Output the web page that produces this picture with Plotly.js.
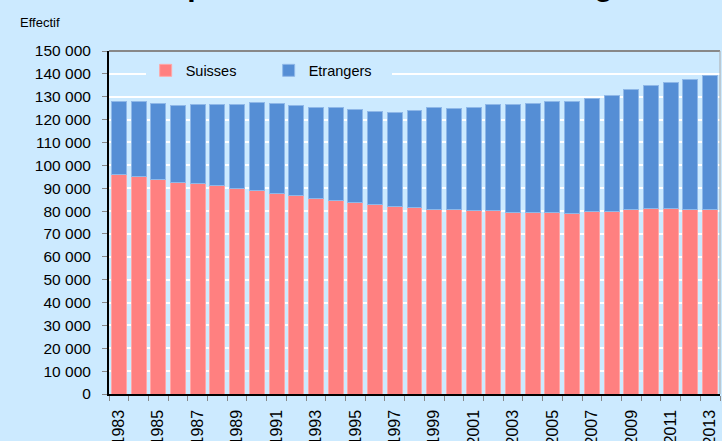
<!DOCTYPE html>
<html>
<head>
<meta charset="utf-8">
<script src="https://cdn.plot.ly/plotly-3.0.1.min.js"></script>
<style>html,body{margin:0;padding:0;background:#cceaff;}#chart{width:722px;height:441px;}</style>
</head>
<body>
<div id="chart"></div>
<script>
const years = [1983,1984,1985,1986,1987,1988,1989,1990,1991,1992,1993,1994,1995,1996,1997,1998,1999,2000,2001,2002,2003,2004,2005,2006,2007,2008,2009,2010,2011,2012,2013];
const suisses = [96100,95300,94000,92700,92100,91400,89900,88800,87500,86600,85400,84800,83800,82700,81900,81500,80900,80500,80300,80300,79400,79200,79200,79000,79600,80000,80800,81200,81300,80900,80900];
const totals = [128100,127800,127100,126100,126400,126800,126500,127400,127000,126100,125400,125200,124500,123600,123300,124200,125100,124800,125500,126400,126800,127200,127700,128100,129300,130600,133200,134700,136300,137600,139400];
const etrangers = totals.map((t,i) => t - suisses[i]);
const labelYears = years.filter(y => y % 2 === 1);

const bg = '#cceaff';
const font = "'Liberation Sans', Arial, sans-serif";

const traces = [
  {type:'bar', name:'Suisses', x:years, y:suisses,
   marker:{color:'#ff8080', line:{color:'#ffa8a8', width:1}}},
  {type:'bar', name:'Etrangers', x:years, y:etrangers,
   marker:{color:'#558ed5', line:{color:'#8fb8e8', width:1}}}
];

const layout = {
  width:722, height:441,
  paper_bgcolor:bg, plot_bgcolor:bg,
  barmode:'stack', bargap:0.24,
  margin:{l:109, r:2, t:51, b:47},
  font:{family:font, color:'#000'},
  showlegend:true,
  legend:{orientation:'h', x:0.06, xanchor:'left', y:0.99, yanchor:'top',
          bgcolor:bg, borderwidth:0, font:{size:14.5, family:font}, entrywidth:78, itemwidth:30,
          traceorder:'normal'},
  xaxis:{type:'linear', range:[1982.5, 2013.5], tickmode:'array', tickvals:labelYears,
         ticktext:labelYears.map(String), tickangle:-90, ticks:'', tickfont:{size:16},
         ticklabelstandoff:8,
         showgrid:false, zeroline:false, showline:true, linecolor:'#000', linewidth:1.5,
         minor:{tick0:1982.5, dtick:1, ticks:'outside', ticklen:5, tickcolor:'#888', showgrid:false}},
  yaxis:{range:[0,150000], dtick:10000, tickformat:',d', ticks:'outside', ticklen:5, tickcolor:'#888',
         tickfont:{size:15.5}, ticklabelstandoff:8, showgrid:true, gridcolor:'#ffffff', gridwidth:2, zeroline:false,
         showline:true, linecolor:'#000', linewidth:2},
  separators:', ',
  shapes:[
    {type:'line', xref:'paper', yref:'paper', x0:0, x1:1, y0:1, y1:1, line:{color:'#888', width:2}},
    {type:'line', xref:'paper', yref:'paper', x0:1, x1:1, y0:0, y1:1, line:{color:'#aaa', width:1}}
  ],
  annotations:[
    {text:"Population résidante selon l'origine", xref:'paper', yref:'paper', x:0.4796, y:1.19,
     xanchor:'center', yanchor:'middle', showarrow:false,
     font:{size:30, family:font, weight:'bold'}},
    {text:'Effectif', xref:'paper', yref:'paper', x:-0.149, y:1.083, xanchor:'left', yanchor:'middle',
     showarrow:false, font:{size:13, family:font}}
  ]
};

Plotly.newPlot('chart', traces, layout, {displayModeBar:false, staticPlot:true});
</script>
</body>
</html>
